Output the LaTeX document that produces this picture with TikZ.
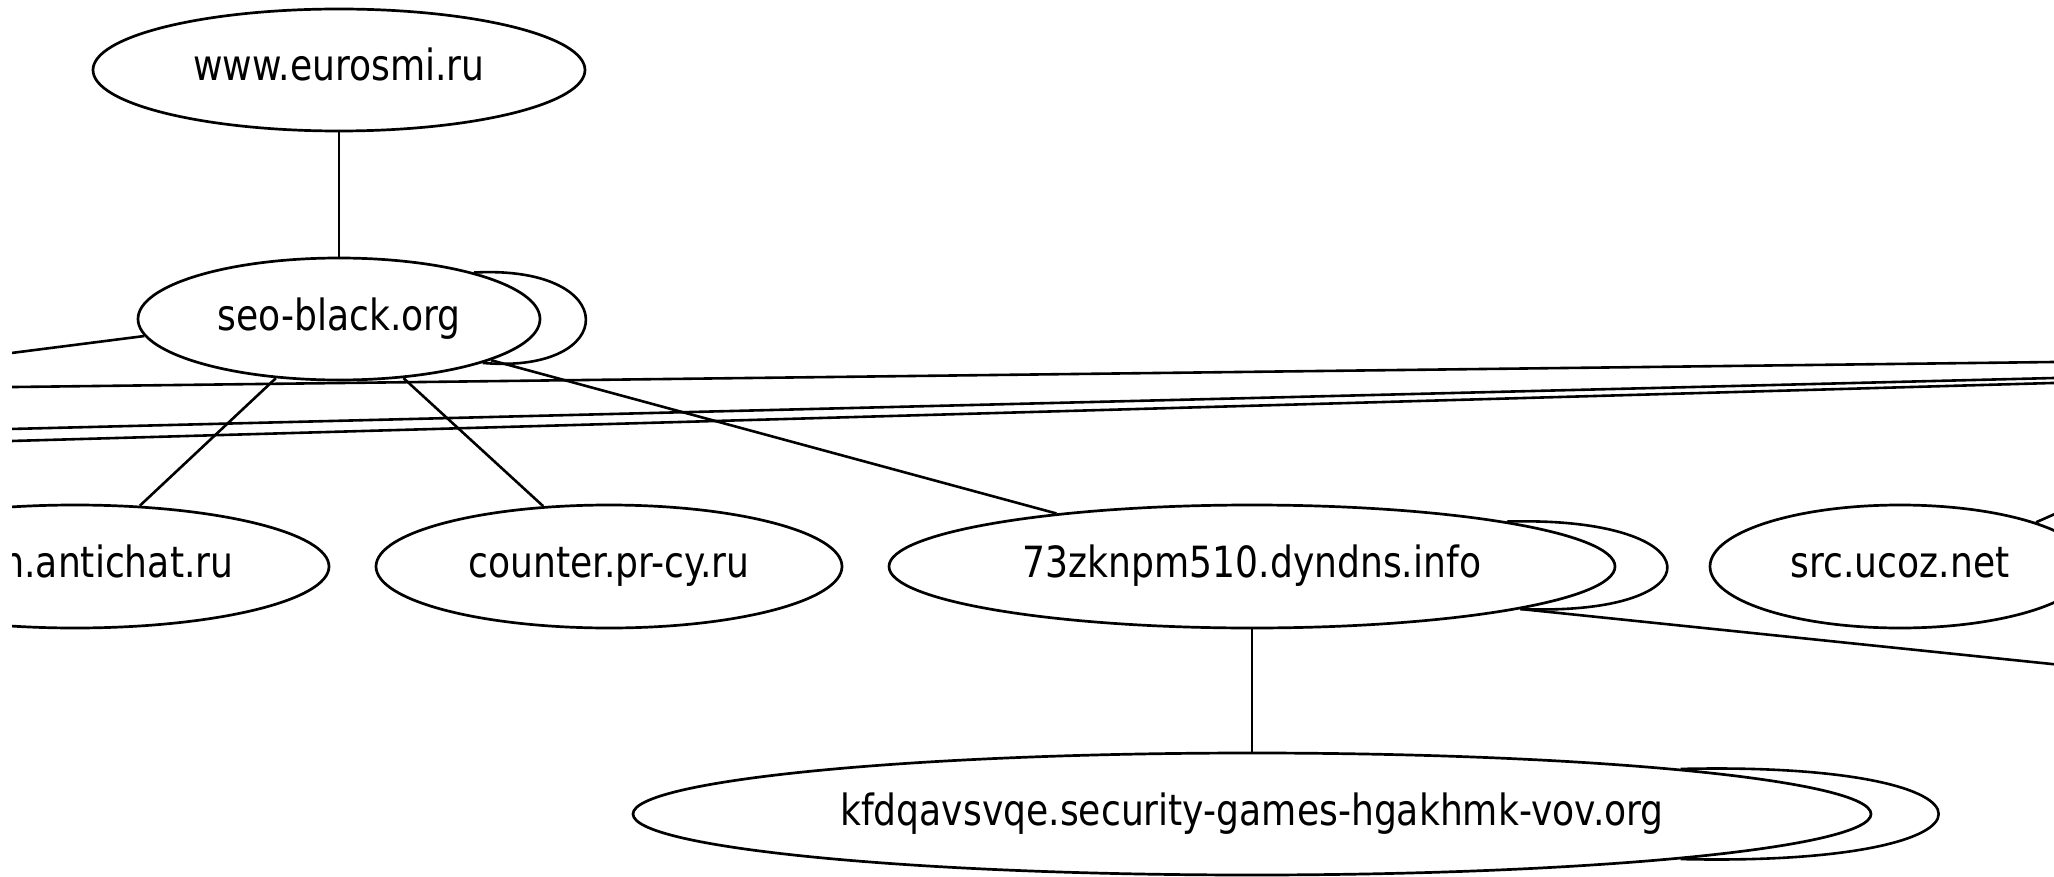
\documentclass[tikz,border=0pt]{standalone}
\usepackage{fontspec}
\setmainfont{DejaVu Sans}[FakeStretch=0.84]
\usetikzlibrary{shapes.geometric}

\tikzset{
  host/.style={ellipse, draw, line width=1.35pt, inner sep=0pt,
    font=\fontsize{21.5pt}{26pt}\selectfont, text height=16pt, text depth=5pt},
  link/.style={line width=1.3pt},
}

\begin{document}
\begin{tikzpicture}[x=0.5pt, y=-0.5pt]
\useasboundingbox (0,0) rectangle (2054,877);
\fill[white] (0,0) rectangle (2054,877);
\begin{scope}
\clip (12,-10) rectangle (2070,890);

% hosts
\node[host, minimum width=246pt, minimum height=61pt]   (euro)    at (339,70)    {www.eurosmi.ru};
\node[host, minimum width=201pt, minimum height=61pt]   (seo)     at (339,319)   {seo-black.org};
\node[host, minimum width=254pt, minimum height=61.5pt] (anti)    at (75,566.5)  {forum.antichat.ru};
\node[host, minimum width=233pt, minimum height=61.5pt] (counter) at (609,566.5) {counter.pr-cy.ru};
\node[host, minimum width=363pt, minimum height=61.5pt] (dyn)     at (1252,566.5){73zknpm510.dyndns.info};
\node[host, minimum width=190pt, minimum height=61.5pt] (ucoz)    at (1900,566.5){src.ucoz.net};
\node[host, minimum width=619pt, minimum height=61pt]   (kfd)     at (1252,814)  {kfdqavsvqe.security-games-hgakhmk-vov.org};

% loose ends of edges leading to hosts outside the view
\coordinate (seoW)  at (-20,357);
\coordinate (aW)    at (-10,387.3);
\coordinate (aE)    at (2070,361.8);
\coordinate (bW)    at (-10,429.5);
\coordinate (bE)    at (2070,377.6);
\coordinate (cW)    at (-10,441.6);
\coordinate (cE)    at (2070,382.5);
\coordinate (dynE)  at (2100,669);
\coordinate (ucozE) at (2100,494);

% edges between hosts
\draw[link] (euro) -- (seo);
\draw[link] (seo) -- (anti);
\draw[link] (seo) -- (counter);
\draw[link] (seo) -- (dyn);
\draw[link] (dyn) -- (kfd);
\draw[link] (seo.185.5) -- (seoW);
\draw[link] (dyn.-9.6) -- (dynE);
\draw[link] (ucoz.18.6) -- (ucozE);

% long edges passing through
\draw[link] (aW) -- (aE);
\draw[link] (bW) -- (bE);
\draw[link] (cW) -- (cE);

% self loops
\draw[link] (seo.19) .. controls +(150,-8) and +(137,12) .. (seo.-17);
\draw[link] (dyn.10.2) .. controls +(210,-6) and +(200,8) .. (dyn.-9.6);
\draw[link] (kfd.6.4) .. controls +(344,-8) and +(344,8) .. (kfd.-6.6);
\end{scope}
\end{tikzpicture}
\end{document}
